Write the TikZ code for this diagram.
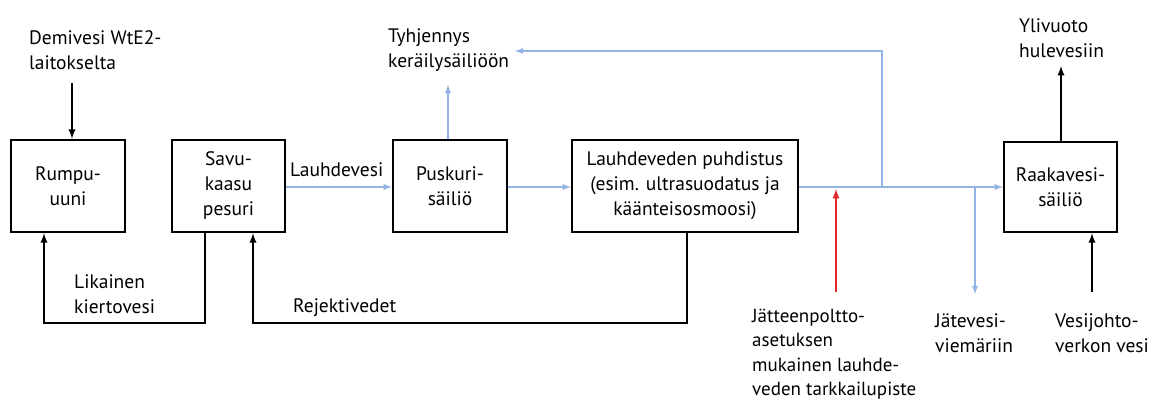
\documentclass[tikz,border=0pt]{standalone}
\usepackage{fontspec}
\setmainfont{PT Sans}
\usetikzlibrary{positioning}
\tikzset{>=latex}
\definecolor{flowblue}{HTML}{93B3E3}
\definecolor{flowred}{HTML}{E02A2A}
\tikzstyle{unit}  =[draw,line width=2.4pt,minimum height=92pt,align=center,inner sep=2pt]
\tikzstyle{txt}   =[align=left,anchor=west,inner sep=0pt]
\tikzstyle{black flow}=[->,line width=2.2pt,black]
\tikzstyle{blue flow} =[->,line width=1.8pt,flowblue]
\tikzstyle{red flow}  =[->,line width=2.2pt,flowred]

\begin{document}
\begin{tikzpicture}[x=1pt,y=-1pt,font=\fontsize{19.5}{25}\selectfont]
  \useasboundingbox (0,0) rectangle (1154,403);

  % Process units
  \node[unit,minimum width=114pt] (rumpu) at (68,186)    {Rumpu-\\uuni};
  \node[unit,minimum width=113pt] (savu)  at (228.5,186) {Savu-\\kaasu\\pesuri};
  \node[unit,minimum width=114pt] (pusk)  at (450,186)   {Puskuri-\\säiliö};
  \node[unit,minimum width=226pt] (lauh)  at (685,186)
    {Lauhdeveden puhdistus\\(esim. ultrasuodatus ja\\käänteisosmoosi)};
  \node[unit,minimum width=113pt,minimum height=90pt] (raaka) at (1060.5,187) {Raakavesi-\\säiliö};

  % Labels
  \node[txt] (demi)  at (29,50)   {Demivesi WtE2-\\laitokselta};
  \node[txt] (tyhj)  at (388,50)  {Tyhjennys\\keräilysäiliöön};
  \node[txt] (yli)   at (1019,38) {Ylivuoto\\hulevesiin};
  \node[txt] (lhv)   at (290,170) {Lauhdevesi};
  \node[txt] (lika)  at (74,294)  {Likainen\\kiertovesi};
  \node[txt] (rej)   at (293,308) {Rejektivedet};
  \node[txt,font=\fontsize{19}{24.5}\selectfont] (jpa) at (752,354)
    {Jätteenpoltto-\\asetuksen\\mukainen lauhde-\\veden tarkkailupiste};
  \node[txt] (jtv)   at (935,333) {Jätevesi-\\viemäriin};
  \node[txt] (vjv)   at (1055,333) {Vesijohto-\\verkon vesi};

  % Free ends and junctions
  \coordinate (demiE) at (72,83);
  \coordinate (tyhjE) at (448,85);
  \coordinate (yliE)  at (1061,66);
  \coordinate (vjvS)  at (1092,292);
  \coordinate (jpaS)  at (836,292);
  \coordinate (jtvE)  at (975,294);
  \coordinate (br1)   at (882,187);
  \coordinate (br2)   at (975,187);
  \coordinate (top)   at (882,51);
  \coordinate (tyhjW) at (515,51);

  % Black flows
  \draw[black flow] (demiE) -- (demiE |- rumpu.north);
  \draw[black flow] (raaka.north -| yliE) -- (yliE);
  \draw[black flow] (vjvS) -- (vjvS |- raaka.south);
  \draw[black flow] (savu.south -| 205,0) |- (44,323) -- (44,0 |- rumpu.south);
  \draw[black flow] (lauh.south -| 687,0) |- (253,323) -- (253,0 |- savu.south);

  % Blue flows
  \draw[blue flow] (savu.east |- 0,187) -- (pusk.west |- 0,187);
  \draw[blue flow] (pusk.east |- 0,187) -- (lauh.west |- 0,187);
  \draw[blue flow] (pusk.north -| tyhjE) -- (tyhjE);
  \draw[blue flow] (lauh.east |- 0,187) -- (raaka.west |- 0,187);
  \draw[blue flow] (br1) -- (top) -- (tyhjW);
  \draw[blue flow] (br2) -- (jtvE);

  % Monitoring point
  \draw[red flow] (jpaS) -- (836,189);
\end{tikzpicture}
\end{document}
